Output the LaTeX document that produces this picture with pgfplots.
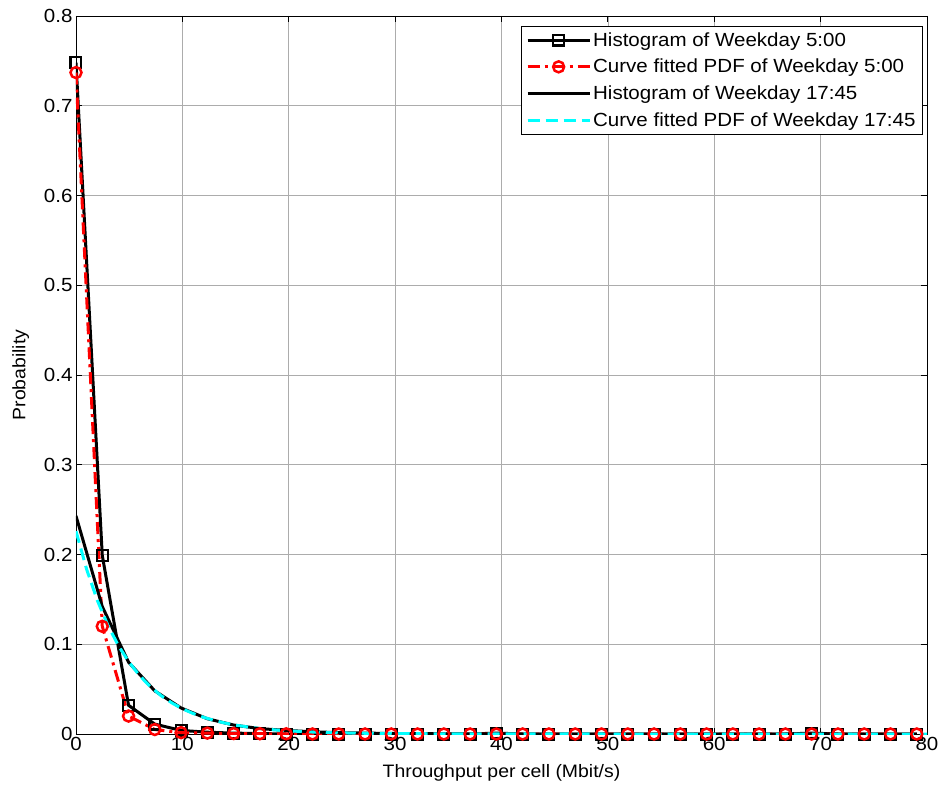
\documentclass[border=0pt]{standalone}
\usepackage{pgfplots}
\pgfplotsset{compat=1.18}
\usepackage{fontspec}
\setmainfont{Liberation Sans}[FakeStretch=1.08]
\definecolor{mcyan}{RGB}{0,255,255}
\definecolor{mred}{RGB}{255,0,0}
\begin{document}
\begin{tikzpicture}[x=1pt,y=1pt]
\useasboundingbox (-76,-56) rectangle (871,734);
\begin{axis}[
  at={(0,0)}, anchor=south west,
  scale only axis, width=851pt, height=718pt,
  xmin=0, xmax=80, ymin=0, ymax=0.8,
  xtick={0,10,...,80}, ytick={0,0.1,...,0.8},
  yticklabels={0,0.1,0.2,0.3,0.4,0.5,0.6,0.7,0.8},
  /pgf/number format/assume math mode=true,
  tick label style={font=\fontsize{19}{22}\selectfont},
  label style={font=\fontsize{18}{21}\selectfont},
  xlabel={Throughput per cell (Mbit/s)},
  ylabel={Probability},
  xlabel style={yshift=-7pt},
  ylabel style={yshift=8pt},
  grid=major,
  major grid style={gray!65, line width=0.6pt},
  axis line style={black, line width=0.9pt},
  tick style={black, line width=0.8pt},
  major tick length=6pt,
  tick align=inside,
  legend cell align=left,
  legend image code/.code={\draw[mark repeat=2,mark phase=2,#1] plot coordinates {(0pt,0pt) (31pt,0pt) (62pt,0pt)};},
  legend style={at={(1,1)}, anchor=north east, xshift=-4pt, yshift=-10pt,
    font=\fontsize{19}{22}\selectfont, draw=black, line width=0.9pt,
    inner xsep=5pt, inner ysep=4pt, row sep=7.5pt},
]
% Histogram 5:00 (black squares)
\addplot[black, line width=3pt, mark=square, mark size=5.4pt,
  mark options={solid, line width=2.2pt, fill=none}] coordinates {
(0,0.748) (2.47,0.199) (4.94,0.032) (7.41,0.011) (9.88,0.004) (12.35,0.002)
(14.82,0.001) (17.29,0.0005) (19.76,0) (22.23,0) (24.70,0) (27.17,0)
(29.64,0) (32.11,0) (34.58,0) (37.05,0) (39.52,0.001) (41.99,0) (44.46,0)
(46.93,0) (49.40,0) (51.87,0) (54.34,0) (56.81,0) (59.28,0) (61.75,0)
(64.22,0) (66.69,0) (69.16,0.001) (71.63,0) (74.10,0) (76.57,0) (79.04,0)
};
\addlegendentry{Histogram of Weekday 5:00}
% Curve fitted 5:00 (red circles, dash-dot)
\addplot[mred, line width=3pt, dash pattern=on 12pt off 5pt on 3pt off 5pt,
  mark=o, mark size=5.5pt, mark options={solid, line width=2.5pt, fill=none}] coordinates {
(0,0.737) (2.47,0.120) (4.94,0.020) (7.41,0.005) (9.88,0.0015) (12.35,0.001)
(14.82,0.0005) (17.29,0.0003) (19.76,0.0002) (22.23,0) (24.70,0) (27.17,0)
(29.64,0) (32.11,0) (34.58,0) (37.05,0) (39.52,0) (41.99,0) (44.46,0)
(46.93,0) (49.40,0) (51.87,0) (54.34,0) (56.81,0) (59.28,0) (61.75,0)
(64.22,0) (66.69,0) (69.16,0) (71.63,0) (74.10,0) (76.57,0) (79.04,0)
};
\addlegendentry{Curve fitted PDF of Weekday 5:00}
% Histogram 17:45 (black line)
\addplot[black, line width=3pt] coordinates {
(0,0.243) (2.47,0.142) (4.94,0.080) (7.41,0.048) (9.88,0.029) (12.35,0.017)
(14.82,0.010) (17.29,0.006) (19.76,0.004) (22.23,0.0025) (24.70,0.0015)
(27.17,0.001) (29.64,0.0006) (32.11,0.0004) (34.58,0.0002) (37.05,0)
(39.52,0) (44.46,0) (49.40,0) (54.34,0) (59.28,0) (64.22,0) (69.16,0)
(74.10,0) (79.04,0)
};
\addlegendentry{Histogram of Weekday 17:45}
% Curve fitted 17:45 (cyan dashed)
\addplot[mcyan, line width=3pt, dash pattern=on 12pt off 6pt] coordinates {
(0,0.2260) (1,0.1835) (2,0.1490) (3,0.1210) (4,0.0982) (5,0.0798) (6,0.0648)
(7,0.0526) (8,0.0427) (9,0.0347) (10,0.0281) (11,0.0229) (12,0.0186)
(13,0.0151) (14,0.0122) (15,0.0099) (16,0.0081) (17,0.0065) (18,0.0053)
(19,0.0043) (20,0.0035) (22,0.0023) (24,0.0015) (26,0.0010) (28,0.0007)
(30,0.0004) (35,0.0002) (40,0.0001) (50,0) (60,0) (70,0) (80,0)
};
\addlegendentry{Curve fitted PDF of Weekday 17:45}
\end{axis}
\end{tikzpicture}
\end{document}
